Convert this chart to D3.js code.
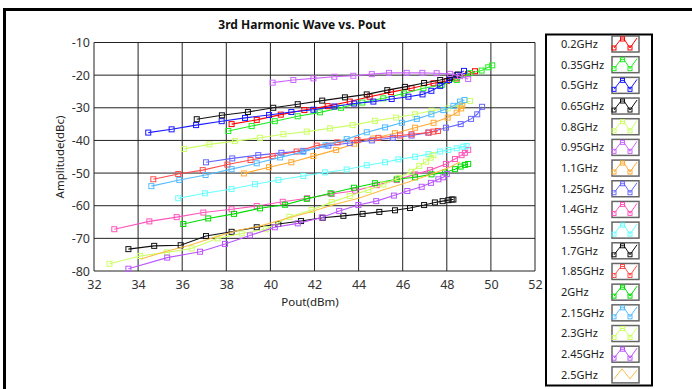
<!DOCTYPE html>
<html>
<head>
<meta charset="utf-8">
<script src="https://cdn.jsdelivr.net/npm/d3@7"></script>
<style>
  body { margin: 0; background: #fff; }
  svg { display: block; }
</style>
</head>
<body>
<svg id="chart" width="692" height="389"></svg>
<script>
// Series names, in legend order
const freqs = ['0.2GHz', '0.35GHz', '0.5GHz', '0.65GHz', '0.8GHz', '0.95GHz', '1.1GHz', '1.25GHz',
  '1.4GHz', '1.55GHz', '1.7GHz', '1.85GHz', '2GHz', '2.15GHz', '2.3GHz', '2.45GHz', '2.5GHz'];
const colors = ['#ff0000', '#22ee22', '#1a1aff', '#111111', '#ccff66', '#cc66ff', '#ffaa33', '#6666ff',
  '#ff55bb', '#66ffff', '#111111', '#ff4d4d', '#00dd00', '#55bbff', '#ccff66', '#bb55ff', '#ffbb44'];
const xTicks = [32, 34, 36, 38, 40, 42, 44, 46, 48, 50, 52];
const yTicks = [-10, -20, -30, -40, -50, -60, -70, -80];

// [Pout dBm, amplitude dBc] per frequency
const s0_2 = [[38.24,-35.0],[39.38,-33.7],[40.47,-32.1],[41.54,-30.7],[42.6,-29.5],[43.6,-28.1],[44.5,-26.6],
  [45.47,-25.2],[46.4,-24.0],[47.4,-22.5],[48.0,-21.8],[48.45,-21.0],[48.96,-19.7],[49.28,-18.8]];
const s0_35 = [[38.09,-37.1],[39.15,-35.6],[40.2,-34.1],[41.24,-32.6],[42.25,-31.4],[43.2,-30.0],[44.17,-28.4],
  [45.12,-27.1],[46.06,-25.6],[46.94,-24.0],[47.77,-23.0],[48.45,-21.5],[49.05,-19.4],[49.58,-18.6],[49.88,-17.6],[50.06,-17.0]];
const s0_5 = [[34.46,-37.6],[35.52,-36.6],[36.63,-35.3],[37.79,-34.1],[38.85,-33.1],[39.94,-32.2],[40.95,-31.3],
  [41.95,-30.6],[42.9,-29.6],[43.8,-28.7],[44.67,-28.1],[45.5,-27.3],[46.26,-26.6],[46.9,-25.9],[47.3,-24.8],
  [47.7,-23.3],[48.1,-21.5],[48.45,-20.0],[48.78,-18.7]];
const s0_65 = [[36.66,-33.5],[37.8,-32.3],[38.98,-31.3],[40.13,-30.0],[41.24,-28.9],[42.35,-27.8],[43.38,-26.8],
  [44.37,-25.9],[45.3,-24.6],[46.1,-23.6],[46.97,-22.4],[47.7,-21.5],[48.15,-20.8],[48.5,-19.8]];
const s0_8 = [[36.08,-42.6],[37.23,-41.2],[38.39,-40.2],[39.53,-39.2],[40.59,-38.1],[41.65,-37.3],[42.7,-36.3],
  [43.73,-35.3],[44.74,-34.0],[45.7,-33.0],[46.56,-32.0],[47.31,-30.9],[48.04,-30.2],[48.6,-29.1],[49.05,-27.9]];
const s0_95 = [[40.1,-22.3],[41.04,-21.5],[41.95,-21.0],[42.9,-20.5],[43.76,-20.2],[44.6,-19.7],[45.38,-19.3],
  [46.18,-19.3],[46.89,-19.3],[47.54,-19.4],[48.15,-19.6],[48.6,-20.3],[48.97,-21.2]];
const s1_1 = [[38.8,-50.1],[39.94,-48.2],[40.95,-46.7],[41.95,-44.8],[42.98,-42.9],[43.8,-41.0],[44.67,-39.4],
  [45.65,-37.8],[46.56,-36.1],[47.4,-34.6],[48.04,-33.0],[48.45,-31.5],[48.65,-30.2],[48.7,-29.4]];
const s1_25 = [[37.08,-46.7],[38.27,-45.5],[39.45,-44.5],[40.5,-43.8],[41.49,-43.2],[42.63,-41.6],[43.6,-40.8],
  [44.6,-40.0],[45.55,-39.2],[46.4,-38.5],[47.17,-37.6],[47.96,-36.1],[48.63,-35.0],[49.1,-33.4],[49.38,-32.0],[49.6,-29.7]];
const s1_4 = [[32.92,-67.2],[34.51,-64.8],[35.75,-63.5],[36.96,-62.1],[38.24,-61.1],[39.38,-60.1],[40.56,-58.8],
  [41.67,-57.7],[42.78,-56.4],[43.84,-55.4],[44.82,-53.7],[45.73,-52.1],[46.56,-50.4],[47.24,-49.1],[47.96,-47.2],
  [48.37,-45.7],[48.67,-44.5],[48.82,-43.8],[48.97,-42.9]];
const s1_55 = [[35.82,-57.7],[37.03,-56.2],[38.24,-54.9],[39.3,-53.4],[40.36,-52.1],[41.49,-50.9],[42.48,-49.8],
  [43.46,-48.9],[44.37,-47.6],[45.2,-46.7],[45.8,-45.8],[46.56,-45.0],[47.17,-44.2],[47.7,-43.4],[48.07,-42.9],
  [48.45,-42.4],[48.75,-41.9],[48.9,-41.7]];
const s1_7 = [[33.56,-73.3],[34.73,-72.3],[35.93,-72.1],[37.08,-69.3],[38.24,-68.0],[39.38,-66.6],[40.36,-65.6],
  [41.39,-64.7],[42.37,-63.7],[43.31,-63.1],[44.18,-62.5],[44.94,-61.9],[45.65,-61.4],[46.33,-60.7],[46.97,-59.8],
  [47.46,-59.0],[47.81,-58.6],[48.07,-58.3],[48.22,-58.1],[48.3,-58.1]];
const s1_85 = [[34.69,-51.9],[35.82,-50.3],[36.93,-49.1],[38.05,-47.4],[39.1,-46.0],[40.1,-44.8],[41.19,-43.4],
  [42.1,-41.6],[43.04,-40.6],[43.95,-39.9],[44.9,-39.2],[45.88,-38.5],[46.4,-38.1],[47.17,-37.6],[47.4,-37.3],[47.6,-37.1]];
const s2_0 = [[36.05,-65.6],[37.18,-63.9],[38.35,-62.5],[39.53,-60.8],[40.66,-59.7],[41.65,-57.9],[42.73,-56.2],
  [43.79,-54.5],[44.74,-53.1],[45.73,-51.9],[46.56,-51.3],[47.31,-50.4],[47.92,-49.8],[48.37,-48.8],[48.63,-48.0],
  [48.82,-47.5],[48.97,-47.2]];
const s2_15 = [[34.6,-54.0],[35.87,-52.1],[37.06,-50.6],[38.24,-48.8],[39.38,-47.0],[40.44,-45.2],[41.49,-43.5],
  [42.5,-41.5],[43.46,-39.6],[44.37,-37.5],[45.2,-36.0],[45.96,-34.6],[46.64,-33.4],[47.3,-32.0],[47.84,-30.7],
  [48.3,-29.4],[48.6,-28.1],[48.8,-27.6]];
const s2_3 = [[32.7,-77.8],[34.09,-75.4],[35.3,-74.3],[36.43,-73.1],[37.61,-70.0],[38.7,-68.5],[39.79,-67.2],
  [40.86,-63.4],[41.87,-61.3],[42.78,-58.9],[43.6,-57.0],[44.44,-55.2],[45.12,-53.5],[45.8,-51.5],[46.4,-49.6],
  [46.75,-47.8],[47.06,-46.5],[47.27,-45.3],[47.39,-44.5]];
const s2_45 = [[33.56,-79.3],[35.32,-75.9],[36.81,-74.1],[37.94,-71.7],[39.07,-69.1],[40.2,-66.6],[41.24,-65.4],
  [42.33,-63.6],[43.12,-61.6],[43.99,-59.8],[44.8,-58.6],[45.6,-56.9],[46.21,-55.5],[46.86,-54.2],[47.28,-53.0],
  [47.62,-51.9],[47.84,-51.3],[48.0,-50.3]];
const s2_5 = [[34.1,-76.4],[35.2,-74.1],[36.3,-72.2],[37.4,-69.8],[38.5,-67.6],[39.6,-66.1],[40.7,-64.0],
  [41.8,-61.9],[42.9,-59.6],[44.0,-57.7],[45.1,-55.2],[46.2,-52.9],[47.2,-50.6],[48.1,-48.3],[48.6,-46.6]];

const series = [s0_2, s0_35, s0_5, s0_65, s0_8, s0_95, s1_1, s1_25, s1_4, s1_55, s1_7, s1_85, s2_0, s2_15, s2_3, s2_45, s2_5];
const noMarker = ['2.5GHz'];

const svg = d3.select('svg#chart');
const font = '"Noto Sans", "DejaVu Sans", sans-serif';

// outer frame (only top and left are visible in the window)
svg.append('rect')
  .attr('x', 4.5).attr('y', 9.5)
  .attr('width', 700).attr('height', 400)
  .attr('fill', 'none').attr('stroke', '#000').attr('stroke-width', 3);

const plotLeft = 94, plotRight = 535, plotTop = 42.5, plotBottom = 271;

const x = d3.scaleLinear().domain([32, 52]).range([plotLeft, plotRight]);
const y = d3.scaleLinear().domain([-80, -10]).range([plotBottom, plotTop]);

// title
svg.append('text')
  .attr('x', 302).attr('y', 29)
  .attr('text-anchor', 'middle')
  .attr('font-family', font).attr('font-weight', 'bold').attr('font-size', '12px')
  .attr('fill', '#111')
  .text('3rd Harmonic Wave vs. Pout');

// grid
const grid = svg.append('g').attr('stroke', '#222').attr('stroke-width', 1);
grid.selectAll('line.v').data(xTicks).join('line')
  .attr('class', 'v')
  .attr('x1', d => x(d)).attr('x2', d => x(d))
  .attr('y1', plotTop).attr('y2', plotBottom);
grid.selectAll('line.h').data(yTicks).join('line')
  .attr('class', 'h')
  .attr('y1', d => y(d)).attr('y2', d => y(d))
  .attr('x1', plotLeft).attr('x2', plotRight);

// axes
const xAxis = svg.append('g')
  .attr('transform', 'translate(0,' + plotBottom + ')')
  .call(d3.axisBottom(x).tickValues(xTicks).tickFormat(d => String(d)).tickSize(0).tickPadding(9));
const yAxis = svg.append('g')
  .attr('transform', 'translate(' + plotLeft + ',0)')
  .call(d3.axisLeft(y).tickValues(yTicks).tickFormat(d => String(d)).tickSize(0).tickPadding(4));
[xAxis, yAxis].forEach(a => {
  a.select('.domain').remove();
  a.selectAll('text')
    .attr('font-family', font).attr('font-size', '12.5px').attr('fill', '#333');
});

svg.append('text')
  .attr('x', 310).attr('y', 306)
  .attr('text-anchor', 'middle')
  .attr('font-family', font).attr('font-size', '11.5px').attr('fill', '#222')
  .text('Pout(dBm)');

svg.append('text')
  .attr('transform', 'translate(64,157) rotate(-90)')
  .attr('text-anchor', 'middle')
  .attr('font-family', font).attr('font-size', '11.5px').attr('fill', '#222')
  .text('Amplitude(dBc)');

// series lines and markers
const line = d3.line().x(d => x(d[0])).y(d => y(d[1]));
const plot = svg.append('g');
series.forEach((data, i) => {
  plot.append('path')
    .datum(data)
    .attr('d', line)
    .attr('fill', 'none')
    .attr('stroke', colors[i])
    .attr('stroke-width', 1.1);
  if (noMarker.includes(freqs[i])) return;
  plot.selectAll('rect.m' + i)
    .data(data)
    .join('rect')
    .attr('class', 'm' + i)
    .attr('x', d => x(d[0]) - 2.5)
    .attr('y', d => y(d[1]) - 2.5)
    .attr('width', 5).attr('height', 5)
    .attr('fill', 'none')
    .attr('stroke', colors[i])
    .attr('stroke-width', 1);
});

// legend
const legend = svg.append('g');
legend.append('rect')
  .attr('x', 546).attr('y', 34.5)
  .attr('width', 106).attr('height', 351)
  .attr('fill', '#fff').attr('stroke', '#000').attr('stroke-width', 2);

const zig = [[2, 12], [9, 3], [12, 3], [18, 12], [25, 2]];
const zigPlain = [[2, 12], [10, 2], [18, 12], [25, 3]];
const iconLine = d3.line();

const items = legend.selectAll('g.item')
  .data(freqs)
  .join('g')
  .attr('class', 'item')
  .attr('transform', (d, i) => 'translate(0,' + (44 + i * 20.68) + ')');

items.append('text')
  .attr('x', 561).attr('dy', '0.35em')
  .attr('font-family', font).attr('font-size', '11px').attr('fill', '#222')
  .text(d => d);

items.each(function(d, i) {
  const g = d3.select(this).append('g').attr('transform', 'translate(612,-8)');
  g.append('rect')
    .attr('width', 27).attr('height', 16)
    .attr('fill', '#fff').attr('stroke', '#666').attr('stroke-width', 1.5);
  const pts = noMarker.includes(d) ? zigPlain : zig;
  g.append('path')
    .attr('d', iconLine(pts))
    .attr('fill', 'none').attr('stroke', colors[i]).attr('stroke-width', 1);
  if (!noMarker.includes(d)) {
    g.selectAll('rect.mk')
      .data([[2, 12], [10.5, 3], [18, 12]])
      .join('rect')
      .attr('class', 'mk')
      .attr('x', p => p[0] - 2).attr('y', p => p[1] - 2)
      .attr('width', 4).attr('height', 4)
      .attr('fill', 'none').attr('stroke', colors[i]).attr('stroke-width', 1);
  }
});
</script>
</body>
</html>
